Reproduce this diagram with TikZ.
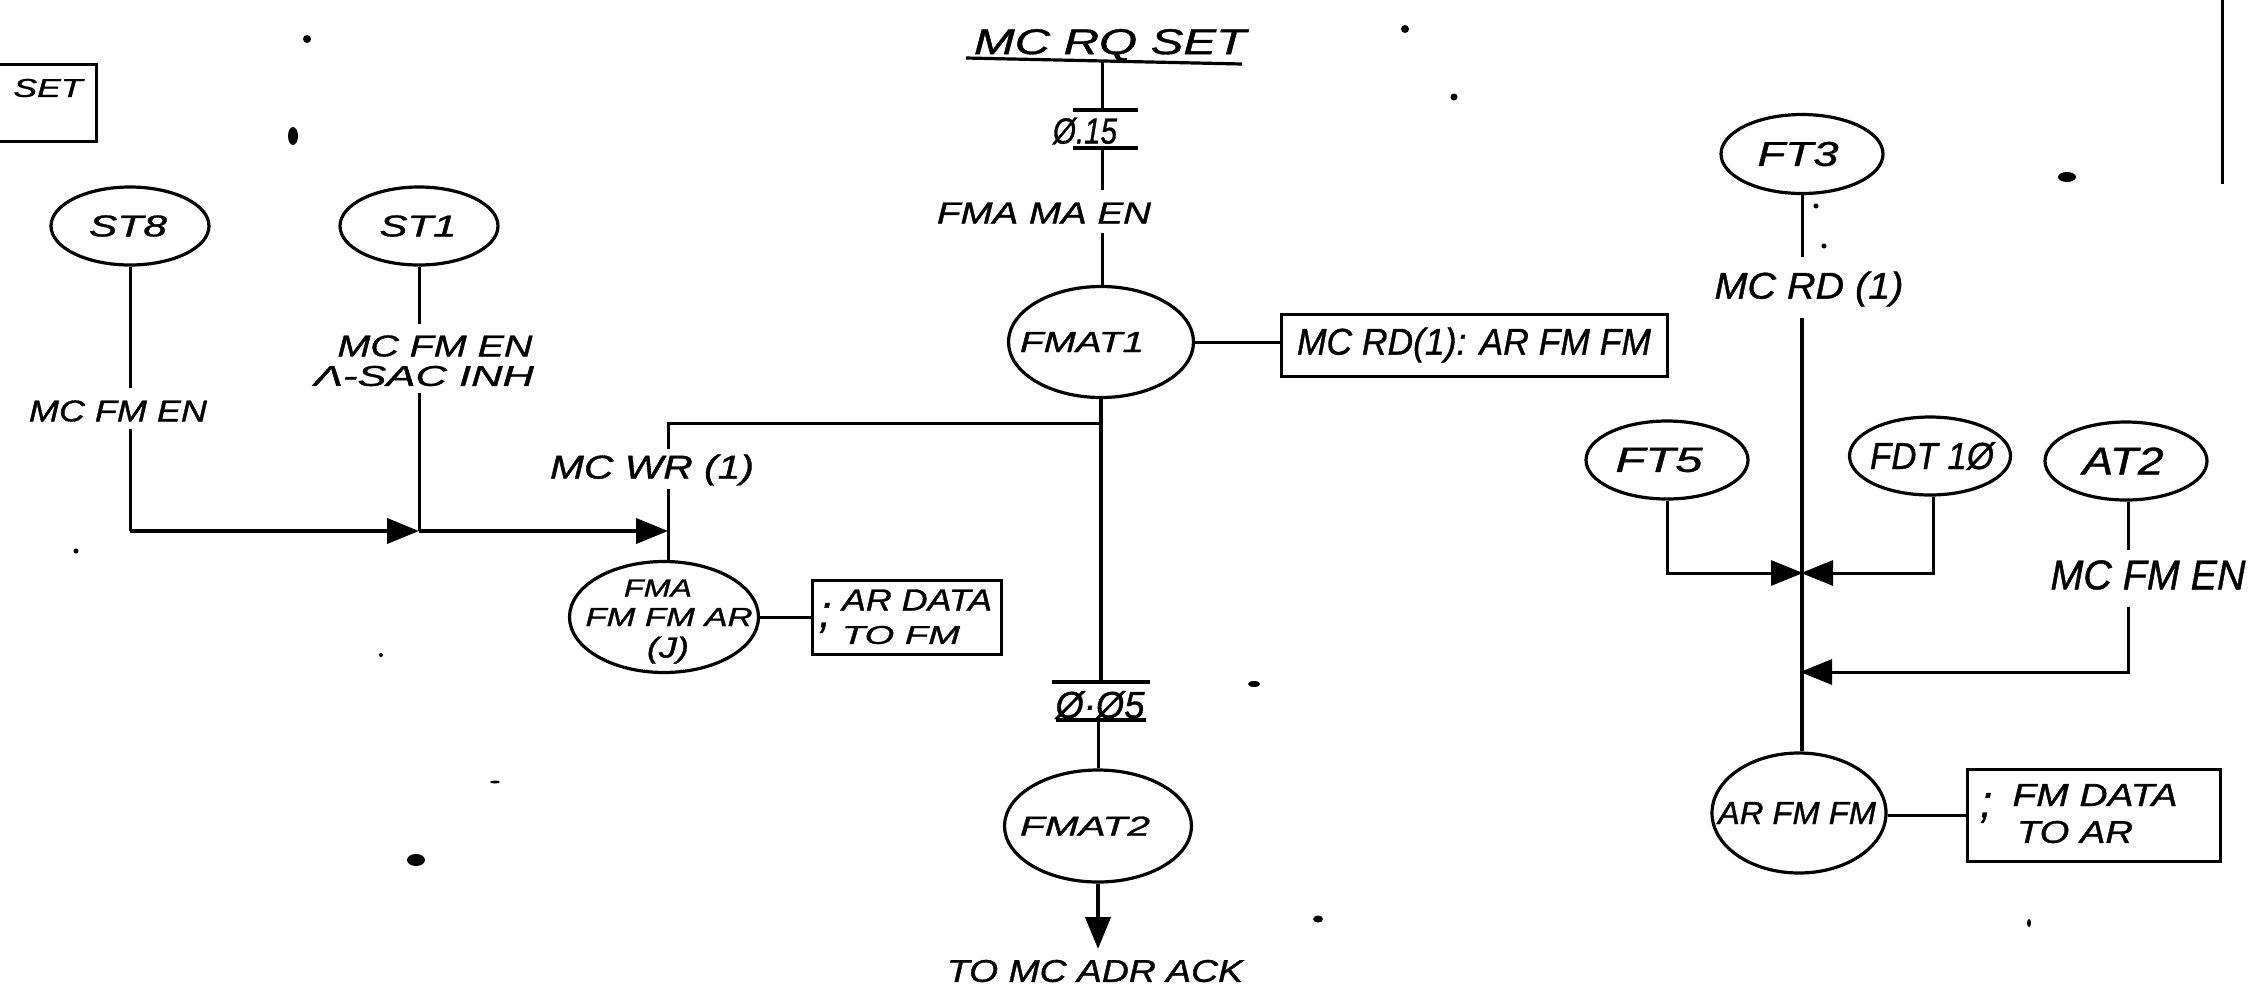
\documentclass[tikz,border=0pt]{standalone}
\usepackage{fontspec}
\setmainfont{Liberation Sans}[ItalicFeatures={FakeBold=1.0}]
\usetikzlibrary{shapes.geometric,arrows.meta}
\newcommand{\tw}[3]{\resizebox{#1pt}{#2pt}{\itshape #3}}
\newcommand{\inside}[1]{\makebox[0pt]{#1}}
\tikzset{
  oval/.style={ellipse,draw=black,line width=3.2pt,inner sep=0pt,minimum width=#1},
  oval/.default=160pt,
  wire/.style={draw=black,line width=3pt},
  heavy/.style={draw=black,line width=4pt},
  tip/.style={-{Triangle[length=32pt,width=25pt]}},
  lab/.style={inner sep=0pt,text=black},
  boxed/.style={draw=black,line width=3pt,inner sep=0pt},
  bar/.style={draw=black,line width=3.2pt},
  speck/.style={fill=black,draw=none}
}
\begin{document}
\begin{tikzpicture}[x=1pt,y=-1pt]
\useasboundingbox (0,0) rectangle (2248,1002);
\fill[white] (0,0) rectangle (2248,1002);

% SET box (runs off the left edge)
\coordinate (sa) at (0,64); \coordinate (sb) at (96,64);
\coordinate (sc) at (96,141); \coordinate (sd) at (0,141);
\draw[wire] (sa) -- (sb) -- (sc) -- (sd);
\node[lab] (setl) at (48,88) {\tw{69}{18}{SET}};

% States
\node[oval=158pt,minimum height=78pt] (st8) at (130,226) {\inside{\hspace*{-4pt}\tw{78}{21}{ST8}}};
\node[oval=158pt,minimum height=78pt] (st1) at (419,226) {\inside{\hspace*{-2pt}\tw{77}{21}{ST1}}};
\node[oval=189pt,minimum height=111pt] (fma) at (664,617) {};
\node[lab] (fma1) at (658,588) {\tw{68}{17}{FMA}};
\node[lab] (fma2) at (669,617) {\tw{167}{18}{FM FM AR}};
\node[lab] (fma3) at (668,650) {\tw{42}{21}{(J)}};
\node[oval=185pt,minimum height=111pt] (fmat1) at (1101,342) {\inside{\hspace*{-38pt}\tw{124}{20}{FMAT1}}};
\node[oval=187pt,minimum height=112pt] (fmat2) at (1098,826) {\inside{\hspace*{-26pt}\tw{130}{19}{FMAT2}}};
\node[oval=162pt,minimum height=79pt] (ft3) at (1802,154) {\inside{\hspace*{-8pt}\tw{81}{24}{FT3}}};
\node[oval=162pt,minimum height=78pt] (ft5) at (1667,460) {\inside{\hspace*{-16pt}\tw{87}{24}{FT5}}};
\node[oval=161pt,minimum height=78pt] (fdt) at (1930,456) {\inside{\hspace*{4pt}\tw{124}{27}{FDT 1Ø}}};
\node[oval=162pt,minimum height=78pt] (at2) at (2126,461) {\inside{\hspace*{-6pt}\tw{81}{27}{AT2}}};
\node[oval=174pt,minimum height=120pt] (arfm) at (1799,813) {\inside{\hspace*{-4pt}\tw{158}{22}{AR FM FM}}};

% Action boxes
\node[boxed,minimum width=189pt,minimum height=74pt] (bfma) at (906.5,617) {};
\node[lab] (bfma1) at (917,600) {\tw{150}{21}{AR DATA}};
\node[lab] (bfma2) at (901,635) {\tw{118}{18}{TO FM}};
\node[lab] (bfma3) at (825,618) {\tw{12}{24}{;}};
\node[boxed,minimum width=386pt,minimum height=62pt] (brd) at (1474,345)
  {\tw{354}{27}{MC RD(1): AR FM FM}};
\node[boxed,minimum width=253pt,minimum height=92pt] (bar) at (2093.5,815) {};
\node[lab] (bar1) at (2095,795) {\tw{165}{22}{FM DATA}};
\node[lab] (bar2) at (2075,832) {\tw{116}{22}{TO AR}};
\node[lab] (bar3) at (1986,808) {\tw{12}{24}{;}};

% Labels
\node[lab] (l8) at (118,411) {\tw{178}{21}{MC FM EN}};
\node[lab] (l1a) at (435,346) {\tw{195}{21}{MC FM EN}};
\node[lab] (l1b) at (424,376) {\tw{220}{20}{Λ-SAC INH}};
\node[lab] (lwr) at (652,470) {\tw{204}{24}{MC WR (1)}};
\node[lab] (lrq) at (1110,45) {\tw{272}{25}{MC RQ SET}};
\node[lab] (l15) at (1085,131) {\tw{64}{26}{Ø.15}};
\node[lab] (lma) at (1044,213) {\tw{214}{21}{FMA MA EN}};
\node[lab] (l05) at (1100,705) {\tw{89}{27}{Ø·Ø5}};
\node[lab] (lack) at (1095,971) {\tw{296}{22}{TO MC ADR ACK}};
\node[lab] (lrd) at (1809,289) {\tw{189}{27}{MC RD (1)}};
\node[lab] (lfm) at (2148,575) {\tw{195}{29}{MC FM EN}};

% Junction points and line breaks
\coordinate (q8a) at (130,388); \coordinate (q8b) at (130,429); \coordinate (c8) at (130,531);
\coordinate (j1) at (419,531); \coordinate (j2) at (668,531);
\coordinate (q1a) at (419,324); \coordinate (q1b) at (419,393);
\coordinate (t1) at (668,423); \coordinate (w1) at (668,449); \coordinate (w2) at (668,489);
\coordinate (m1) at (1101,423);
\coordinate (ra) at (966,58); \coordinate (rb) at (1242,64); \coordinate (r0) at (1102,61);
\coordinate (b15a) at (1073,110); \coordinate (b15b) at (1138,110);
\coordinate (b15c) at (1073,148); \coordinate (b15d) at (1138,148);
\coordinate (p15a) at (1102,110); \coordinate (p15b) at (1102,148); \coordinate (p15c) at (1102,190);
\coordinate (p15d) at (1102,233);
\coordinate (b05a) at (1052,682); \coordinate (b05b) at (1150,682);
\coordinate (b05c) at (1056,720); \coordinate (b05d) at (1146,720);
\coordinate (p05a) at (1101,682); \coordinate (p05b) at (1098,720);
\coordinate (ackt) at (1098,949);
\coordinate (rd1) at (1802,257); \coordinate (rd2) at (1802,318);
\coordinate (c5) at (1667,573); \coordinate (c10) at (1933,573); \coordinate (j3) at (1803,573);
\coordinate (j3b) at (1801,573);
\coordinate (fm1) at (2128,550); \coordinate (fm2) at (2128,607); \coordinate (c2) at (2128,672);
\coordinate (j4) at (1800,672);
\coordinate (edge1) at (2222,0); \coordinate (edge2) at (2222,184);

% Left group
\draw[wire] (st8.south) -- (q8a);
\draw[wire] (q8b) -- (c8);
\draw[heavy,tip] (c8) -- (j1);
\draw[wire] (st1.south) -- (q1a);
\draw[wire] (q1b) -- (j1);
\draw[heavy,tip] (j1) -- (j2);
\draw[wire] (m1) -- (t1) -- (w1);
\draw[wire] (w2) -- (w2 |- fma.north);
\draw[wire] (fma.east) -- (bfma.west);

% Centre group
\draw[bar] (ra) -- (rb);
\draw[wire] (r0) -- (p15a);
\draw[bar] (b15a) -- (b15b);
\draw[bar] (b15c) -- (b15d);
\draw[wire] (p15b) -- (p15c);
\draw[wire] (p15d) -- (p15d |- fmat1.north);
\draw[wire] (fmat1.east) -- (fmat1.east -| brd.west);
\draw[heavy] (fmat1.south) -- (p05a);
\draw[bar] (b05a) -- (b05b);
\draw[bar] (b05c) -- (b05d);
\draw[wire] (p05b) -- (p05b |- fmat2.north);
\draw[heavy,tip] (fmat2.south) -- (ackt);

% Right group
\draw[wire] (ft3.south) -- (rd1);
\draw[heavy] (rd2) -- (rd2 |- arfm.north);
\draw[wire,tip] (ft5.south) -- (c5) -- (j3);
\draw[wire,tip] (fdt.south -| c10) -- (c10) -- (j3b);
\draw[wire] (at2.south -| fm1) -- (fm1);
\draw[wire,tip] (fm2) -- (c2) -- (j4);
\draw[wire] (arfm.east |- bar.west) -- (bar.west);
\draw[wire] (edge1) -- (edge2);

% Specks of the scan
\fill[speck] (307,39) circle (4);
\fill[speck] (293,136) ellipse (5 and 9);
\fill[speck] (1454,97) circle (3.5);
\fill[speck] (1405,29) circle (4);
\fill[speck] (1318,919) ellipse (5 and 3.5);
\fill[speck] (1254,684) ellipse (6 and 3);
\fill[speck] (2067,177) ellipse (9 and 5);
\fill[speck] (416,860) ellipse (9 and 6);
\fill[speck] (76,551) circle (2.5);
\fill[speck] (381,655) circle (2);
\fill[speck] (2029,923) ellipse (2 and 4);
\fill[speck] (1816,206) circle (2.5);
\fill[speck] (1824,246) circle (2.5);
\fill[speck] (495,782) ellipse (5 and 1.5);
\end{tikzpicture}
\end{document}
